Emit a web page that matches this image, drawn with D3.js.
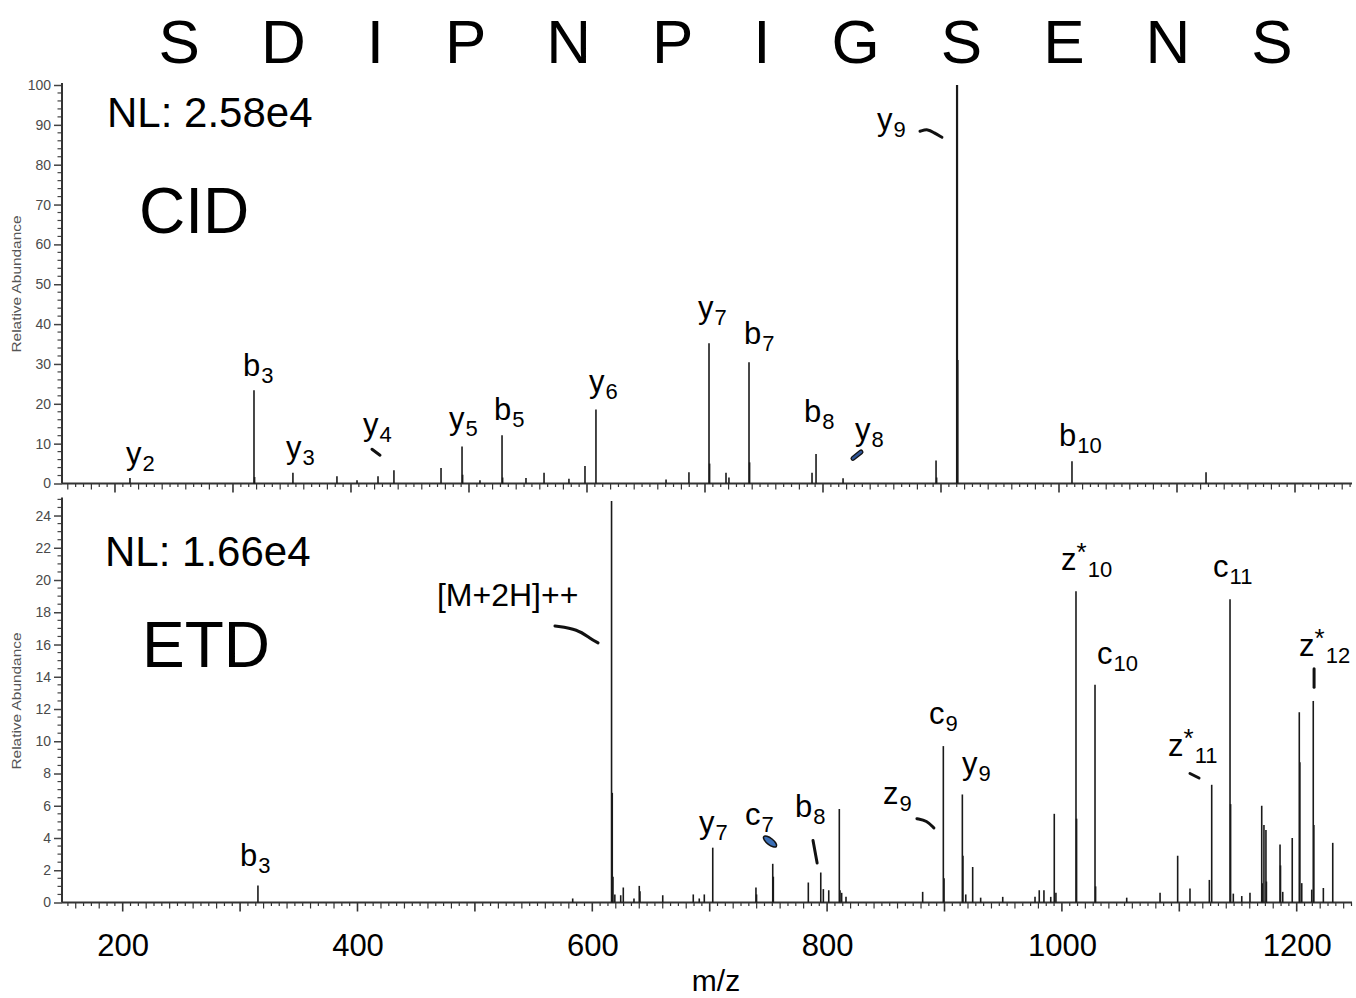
<!DOCTYPE html>
<html>
<head>
<meta charset="utf-8">
<script src="https://cdn.jsdelivr.net/npm/d3@7"></script>
<style>
  body { margin: 0; background: #fff; }
  svg { display: block; }
  text { font-family: "Liberation Sans", Arial, Helvetica, sans-serif; }
</style>
</head>
<body>
<svg id="chart" width="1356" height="998"></svg>
<script>
// ---- Peptide sequence ----
const sequence = ["S", "D", "I", "P", "N", "P", "I", "G", "S", "E", "N", "S"];

// ---- CID spectrum (m/z, relative abundance %) ----
const cidMz = [212.7, 317.8, 318.3, 350.8, 388.1, 405.1, 422.9, 436.4, 476.3, 494.1, 494.6,
  509.3, 528.0, 528.5, 548.3, 563.6, 584.7, 598.3, 607.6, 667.0, 686.4, 703.4, 703.9,
  717.8, 720.3, 737.3, 737.8, 790.7, 794.1, 817.0, 895.8, 896.3, 913.6, 914.2, 1011.0, 1124.6];
const cidAbund = [1.4, 23.4, 1.6, 2.7, 1.8, 0.8, 1.8, 3.3, 3.9, 9.3, 2.2,
  0.8, 12.1, 1.5, 1.4, 2.7, 1.2, 4.4, 18.6, 1.0, 2.8, 35.2, 5.0,
  2.7, 1.5, 30.4, 5.3, 2.7, 7.4, 1.3, 5.8, 1.5, 100, 31, 5.6, 2.8];

// ---- ETD spectrum (m/z, relative abundance %) ----
const etdMz = [315.2, 583.3, 616.4, 617.0, 617.6, 619.2, 624.2, 626.4, 635.5, 640.0, 640.6,
  660.0, 686.0, 691.1, 695.4, 702.6, 739.4, 739.9, 753.7, 754.2, 784.0, 794.6, 796.8,
  801.4, 810.4, 811.0, 812.4, 816.1, 881.4, 899.0, 899.6, 915.2, 915.7, 918.1, 924.0,
  930.8, 949.6, 977.1, 980.7, 984.7, 990.5, 993.5, 994.9, 1012.0, 1012.5, 1028.2, 1028.7,
  1055.2, 1083.6, 1098.6, 1109.1, 1125.6, 1127.6, 1143.2, 1143.7, 1146.0, 1153.2, 1160.2,
  1170.2, 1170.6, 1172.1, 1173.8, 1174.2, 1185.8, 1186.2, 1188.1, 1196.2, 1202.2, 1202.7,
  1204.3, 1212.8, 1214.1, 1214.6, 1222.7, 1230.7];
const etdAbund = [1.05, 0.25, 24.9, 6.8, 1.6, 0.5, 0.45, 0.93, 0.25, 1.03, 0.7,
  0.45, 0.5, 0.25, 0.5, 3.4, 0.93, 0.5, 2.4, 1.6, 1.24, 1.86, 0.83,
  0.76, 5.8, 0.76, 0.6, 0.35, 0.66, 9.7, 1.5, 6.7, 2.9, 0.5, 2.2,
  0.3, 0.35, 0.35, 0.76, 0.76, 0.35, 5.5, 0.6, 19.3, 5.2, 13.5, 1.0,
  0.3, 0.6, 2.9, 0.87, 1.4, 7.3, 18.8, 6.1, 0.55, 0.4, 0.6,
  6.0, 1.2, 4.8, 4.5, 1.3, 3.6, 2.3, 0.66, 4.0, 11.8, 8.7,
  1.2, 0.8, 12.5, 4.8, 0.9, 3.7];

// ---- Axis ticks ----
const mzTickLabels = [200, 400, 600, 800, 1000, 1200];
const cidYTicks = [0, 10, 20, 30, 40, 50, 60, 70, 80, 90, 100];
const etdYTicks = [0, 2, 4, 6, 8, 10, 12, 14, 16, 18, 20, 22, 24];

// ---- Fragment ion annotations: ion letter, subscript, label anchor (m/z, abundance) ----
const cidIons = [
  { ion: "y", sub: "2", mz: 209.3, v: 5.0 },
  { ion: "b", sub: "3", mz: 308.5, v: 27.0 },
  { ion: "y", sub: "3", mz: 344.9, v: 6.5 },
  { ion: "y", sub: "4", mz: 410.2, v: 12.1 },
  { ion: "y", sub: "5", mz: 483.1, v: 13.8 },
  { ion: "b", sub: "5", mz: 521.2, v: 16.0 },
  { ion: "y", sub: "6", mz: 601.7, v: 22.9 },
  { ion: "y", sub: "7", mz: 694.1, v: 41.5 },
  { ion: "b", sub: "7", mz: 733.1, v: 34.9 },
  { ion: "b", sub: "8", mz: 783.9, v: 15.5 },
  { ion: "y", sub: "8", mz: 827.1, v: 10.8 },
  { ion: "y", sub: "9", mz: 845.8, v: 88.7 },
  { ion: "b", sub: "10", mz: 1000.0, v: 9.5 }
];
const etdIons = [
  { ion: "b", sub: "3", mz: 299.9, v: 2.25 },
  { ion: "[M+2H]++", sub: "", mz: 467.7, v: 18.4 },
  { ion: "y", sub: "7", mz: 690.9, v: 4.3 },
  { ion: "c", sub: "7", mz: 730.1, v: 4.8 },
  { ion: "b", sub: "8", mz: 772.7, v: 5.3 },
  { ion: "z", sub: "9", mz: 847.6, v: 6.1 },
  { ion: "c", sub: "9", mz: 886.8, v: 11.1 },
  { ion: "y", sub: "9", mz: 914.9, v: 8.0 },
  { ion: "z*", sub: "10", mz: 999.3, v: 20.6 },
  { ion: "c", sub: "10", mz: 1030.0, v: 14.8 },
  { ion: "c", sub: "11", mz: 1128.8, v: 20.2 },
  { ion: "z*", sub: "11", mz: 1090.4, v: 9.1 },
  { ion: "z*", sub: "12", mz: 1202.0, v: 15.3 }
];

// ---- Leader strokes joining labels to peaks (m/z, abundance points) ----
const cidLeaders = [
  { pts: [[882.2, 88.4], [889.0, 89.0], [894.0, 88.0], [900.8, 86.9]], color: "#111" },
  { pts: [[417.8, 8.6], [424.6, 7.1]], color: "#111" },
  { pts: [[825.4, 6.3], [832.2, 7.9]], color: "#2f5597", outline: true }
];
const etdLeaders = [
  { pts: [[568.2, 17.15], [587.8, 16.95], [598.1, 16.37], [604.9, 16.1]], color: "#111" },
  { pts: [[876.5, 5.2], [885.0, 5.08], [891.0, 4.62]], color: "#111" },
  { pts: [[788.0, 3.85], [791.5, 2.45]], color: "#111" },
  { pts: [[1109.1, 8.0], [1116.8, 7.72]], color: "#111" },
  { pts: [[1214.8, 14.5], [1214.8, 13.35]], color: "#111" }
];
const etdBlobs = [{ mz: 751.4, v: 3.78 }];

// ---------------------------------------------------------------
const svg = d3.select("#chart");
const AXIS_LEFT = 62, AXIS_RIGHT = 1352;

const xTop = d3.scaleLinear().domain([155.1, 1248.3]).range([AXIS_LEFT, AXIS_RIGHT]);
const yTop = d3.scaleLinear().domain([0, 100]).range([483.5, 85]);
const xBot = d3.scaleLinear().domain([148.3, 1247.1]).range([AXIS_LEFT, AXIS_RIGHT]);
const yBot = d3.scaleLinear().domain([0, 25]).range([902.5, 499.4]);

// sequence across the top
svg.append("text")
  .attr("x", 158.5).attr("y", 63)
  .attr("font-size", 62)
  .attr("letter-spacing", 21.9)
  .attr("fill", "#000")
  .text(sequence.join(" "));

function drawPanel(g, x, y, mz, ab, yTicks, minorStep, yMax, opts) {
  // x axis minor/medium/major ticks (every 20/3 m/z, 20 m/z, 100 m/z)
  const [d0, d1] = x.domain();
  const idx = d3.range(Math.ceil((d0 - 200) * 3 / 20), Math.floor((d1 - 200) * 3 / 20) + 1);
  const y0 = y(0);
  g.append("g").selectAll("line").data(idx).join("line")
    .attr("x1", i => x(200 + i * 20 / 3)).attr("x2", i => x(200 + i * 20 / 3))
    .attr("y1", y0)
    .attr("y2", i => y0 + (i % 15 === 0 ? 9 : i % 3 === 0 ? 6 : 3.5))
    .attr("stroke", "#333").attr("stroke-width", i => (i % 15 === 0 ? 1.6 : 1.2));
  g.append("line")
    .attr("x1", AXIS_LEFT).attr("x2", AXIS_RIGHT).attr("y1", y0).attr("y2", y0)
    .attr("stroke", "#333").attr("stroke-width", 1.8);

  // y axis
  const yAxis = d3.axisLeft(y).tickValues(yTicks).tickSize(8).tickPadding(3)
    .tickFormat(d3.format("d"));
  const ya = g.append("g").attr("transform", `translate(${AXIS_LEFT},0)`).call(yAxis);
  ya.select(".domain").remove();
  ya.selectAll(".tick line").attr("stroke", "#444").attr("stroke-width", 1.5);
  ya.selectAll(".tick text").attr("font-size", 14).attr("fill", "#4a4a4a")
    .attr("font-family", "'Liberation Sans Narrow', 'Liberation Sans', Arial, sans-serif");
  g.append("g").selectAll("line")
    .data(d3.range(0, yMax + 1e-6, minorStep).filter(v => !yTicks.some(t => Math.abs(t - v) < 1e-6)))
    .join("line")
    .attr("x1", AXIS_LEFT - 4.5).attr("x2", AXIS_LEFT)
    .attr("y1", d => y(d)).attr("y2", d => y(d))
    .attr("stroke", "#444").attr("stroke-width", 1.2);
  g.append("line")
    .attr("x1", AXIS_LEFT).attr("x2", AXIS_LEFT)
    .attr("y1", y0).attr("y2", y(yMax) - 2)
    .attr("stroke", "#333").attr("stroke-width", 2);

  g.append("text")
    .attr("transform", `translate(21,${opts.titleY}) rotate(-90)`)
    .attr("text-anchor", "middle")
    .attr("font-size", 13)
    .attr("textLength", 137).attr("lengthAdjust", "spacingAndGlyphs")
    .attr("fill", "#555")
    .text("Relative Abundance");

  // spectrum sticks
  const peaks = mz.map((m, i) => ({ mz: m, v: ab[i] }));
  g.append("g").selectAll("line").data(peaks).join("line")
    .attr("x1", d => x(d.mz)).attr("x2", d => x(d.mz))
    .attr("y1", y0).attr("y2", d => y(d.v))
    .attr("stroke", "#1a1a1a")
    .attr("stroke-width", d => (d.v > 50 ? 2.2 : 1.6));
}

const cidPanel = svg.append("g");
drawPanel(cidPanel, xTop, yTop, cidMz, cidAbund, cidYTicks, 2, 100, { titleY: 284 });
const etdPanel = svg.append("g");
drawPanel(etdPanel, xBot, yBot, etdMz, etdAbund, etdYTicks, 0.5, 25, { titleY: 701 });

// m/z labels on the lower axis
const xAxis = d3.axisBottom(xBot).tickValues(mzTickLabels).tickSize(0).tickPadding(31)
  .tickFormat(d3.format("d"));
const xa = svg.append("g").attr("transform", `translate(0,${yBot(0)})`).call(xAxis);
xa.select(".domain").remove();
xa.selectAll(".tick text").attr("font-size", 31).attr("fill", "#000")
  .attr("font-family", "'Liberation Sans', Arial, sans-serif");

svg.append("text").attr("x", 716).attr("y", 991).attr("text-anchor", "middle")
  .attr("font-size", 30).text("m/z");

// panel headings
svg.append("text").attr("x", 107).attr("y", 127).attr("font-size", 42).text("NL: 2.58e4");
svg.append("text").attr("x", 139).attr("y", 233).attr("font-size", 64).text("CID");
svg.append("text").attr("x", 105).attr("y", 566).attr("font-size", 42).text("NL: 1.66e4");
svg.append("text").attr("x", 142).attr("y", 667).attr("font-size", 64).text("ETD");

// ion labels
function drawIons(ions, x, y) {
  const t = svg.append("g").selectAll("text").data(ions).join("text")
    .attr("x", d => x(d.mz)).attr("y", d => y(d.v))
    .attr("font-size", d => (d.sub ? 31 : 32)).attr("fill", "#000");
  t.each(function (d) {
    const el = d3.select(this);
    if (d.ion.startsWith("z*")) {
      el.append("tspan").text("z");
      el.append("tspan").attr("dy", -9).attr("font-size", 26).text("*");
      el.append("tspan").attr("dy", 16).attr("dx", 1).attr("font-size", 22).text(d.sub);
    } else {
      el.append("tspan").text(d.ion);
      if (d.sub) el.append("tspan").attr("dy", 7).attr("dx", 1).attr("font-size", 22).text(d.sub);
    }
  });
}
drawIons(cidIons, xTop, yTop);
drawIons(etdIons, xBot, yBot);

function drawLeaders(list, x, y) {
  const line = d3.line().x(p => x(p[0])).y(p => y(p[1])).curve(d3.curveBasis);
  list.forEach(l => {
    if (l.outline) {
      svg.append("path").attr("d", line(l.pts)).attr("fill", "none")
        .attr("stroke", "#111").attr("stroke-width", 5).attr("stroke-linecap", "round");
      svg.append("path").attr("d", line(l.pts)).attr("fill", "none")
        .attr("stroke", l.color).attr("stroke-width", 2.5).attr("stroke-linecap", "round");
    } else {
      svg.append("path").attr("d", line(l.pts)).attr("fill", "none")
        .attr("stroke", l.color).attr("stroke-width", 3).attr("stroke-linecap", "round");
    }
  });
}
drawLeaders(cidLeaders, xTop, yTop);
drawLeaders(etdLeaders, xBot, yBot);

svg.append("g").selectAll("ellipse").data(etdBlobs).join("ellipse")
  .attr("cx", d => xBot(d.mz)).attr("cy", d => yBot(d.v))
  .attr("rx", 8).attr("ry", 3.2)
  .attr("transform", d => `rotate(38,${xBot(d.mz)},${yBot(d.v)})`)
  .attr("fill", "#3b6fb6").attr("stroke", "#111").attr("stroke-width", 1.5);
</script>
</body>
</html>
